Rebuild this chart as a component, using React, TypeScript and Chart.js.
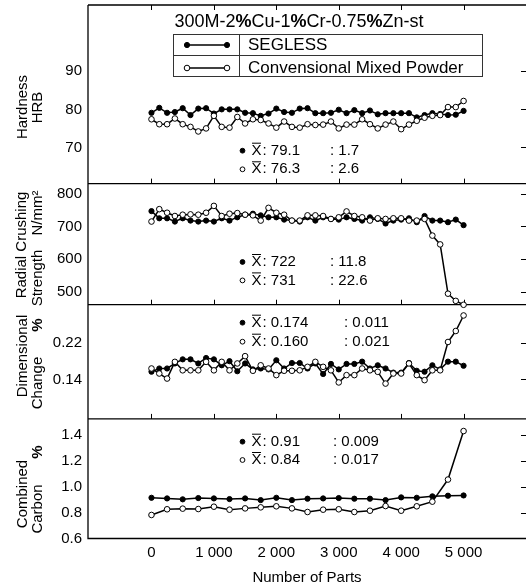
import React, { useEffect, useRef } from 'react';
import { Chart, registerables } from 'chart.js';

Chart.register(...registerables);

const FONT = "'Liberation Sans', Arial, Helvetica, sans-serif";

// ---------- data ----------
const partsFine = [0, 125, 250, 375, 500, 625, 750, 875, 1000, 1125, 1250, 1375, 1500, 1625, 1750, 1875, 2000, 2125, 2250, 2375, 2500, 2625, 2750, 2875, 3000, 3125, 3250, 3375, 3500, 3625, 3750, 3875, 4000, 4125, 4250, 4375, 4500, 4625, 4750, 4875, 5000];
const partsCoarse = [0, 250, 500, 750, 1000, 1250, 1500, 1750, 2000, 2250, 2500, 2750, 3000, 3250, 3500, 3750, 4000, 4250, 4500, 4750, 5000];

const hardSegless = [79.1, 80.4, 79.1, 79.3, 80.3, 78.5, 80.2, 80.3, 78.9, 80.0, 80.0, 80.0, 79.1, 79.0, 78.3, 78.9, 80.2, 79.3, 79.1, 80.2, 80.3, 79.0, 79.0, 79.1, 79.9, 79.0, 79.8, 79.0, 79.7, 78.7, 79.0, 79.0, 79.0, 79.0, 77.9, 78.5, 79.0, 78.8, 78.5, 78.6, 79.6];
const hardConv = [77.4, 76.1, 76.1, 77.6, 76.1, 75.4, 74.2, 75.0, 78.3, 75.4, 75.2, 78.0, 76.3, 77.4, 77.2, 76.3, 75.2, 76.8, 75.4, 75.2, 76.1, 75.9, 76.0, 76.8, 75.0, 76.0, 76.0, 77.4, 76.1, 75.0, 76.0, 76.8, 74.8, 76.0, 77.0, 77.8, 78.3, 78.5, 80.6, 80.6, 82.2];

const rcsSegless = [747, 725, 725, 715, 725, 718, 715, 718, 715, 725, 718, 728, 736, 739, 734, 728, 728, 721, 718, 715, 728, 718, 728, 723, 721, 728, 723, 718, 728, 723, 709, 718, 721, 725, 713, 732, 718, 718, 713, 721, 704];
const rcsConv = [715, 753, 742, 732, 736, 737, 736, 742, 763, 732, 739, 741, 736, 734, 718, 757, 742, 736, 718, 718, 734, 734, 732, 723, 728, 746, 732, 728, 718, 725, 723, 725, 725, 718, 718, 723, 672, 645, 494, 472, 460];

const dcSegless = [0.157, 0.164, 0.164, 0.175, 0.184, 0.184, 0.175, 0.187, 0.184, 0.171, 0.180, 0.158, 0.175, 0.162, 0.164, 0.162, 0.182, 0.164, 0.176, 0.176, 0.164, 0.175, 0.152, 0.174, 0.162, 0.174, 0.174, 0.179, 0.164, 0.171, 0.164, 0.155, 0.155, 0.176, 0.159, 0.157, 0.171, 0.162, 0.179, 0.179, 0.170];
const dcConv = [0.164, 0.153, 0.142, 0.1785, 0.160, 0.160, 0.160, 0.1785, 0.160, 0.1785, 0.160, 0.175, 0.191, 0.159, 0.171, 0.164, 0.1495, 0.159, 0.159, 0.160, 0.1676, 0.1785, 0.1676, 0.160, 0.1335, 0.1495, 0.1495, 0.164, 0.160, 0.1567, 0.131, 0.153, 0.153, 0.175, 0.1495, 0.1385, 0.160, 0.160, 0.222, 0.246, 0.280];

const ccSegless = [0.915, 0.91, 0.903, 0.913, 0.91, 0.905, 0.91, 0.897, 0.915, 0.897, 0.908, 0.91, 0.913, 0.908, 0.908, 0.897, 0.918, 0.915, 0.926, 0.931, 0.933];
const ccConv = [0.782, 0.826, 0.831, 0.828, 0.846, 0.823, 0.833, 0.841, 0.849, 0.833, 0.805, 0.823, 0.826, 0.805, 0.815, 0.851, 0.815, 0.849, 0.885, 1.056, 1.431];

const statMeans = [['79.1', '76.3'], ['722', '731'], ['0.174', '0.160'], ['0.91', '0.84']];
const statSigmas = [['1.7', '2.6'], ['11.8', '22.6'], ['0.011', '0.021'], ['0.009', '0.017']];

const xTicks = [0, 1000, 2000, 3000, 4000, 5000];
const xTickLabels = ['0', '1 000', '2 000', '3 000', '4 000', '5 000'];
const hardTicks = [70, 80, 90];
const rcsTicks = [500, 600, 700, 800];
const dcTicks = [0.14, 0.22];
const ccTicks = [0.6, 0.8, 1.0, 1.2, 1.4];

const seriesNames = ['SEGLESS', 'Convensional Mixed Powder'];
const titleParts: [string, boolean][] = [['300M-2', false], ['%', true], ['Cu-1', false], ['%', true], ['Cr-0.75', false], ['%', true], ['Zn-st', false]];
const yTitles = [['Hardness', 'HRB'], ['Radial Crushing', 'Strength', 'N/mm²'], ['Dimensional', 'Change', '%'], ['Combined', 'Carbon', '%']];
const xTitle = 'Number of Parts';

// ---------- layout constants ----------
const W = 531;
const H = 585;
const panelIds = ['yH', 'yRCS', 'yDC', 'yCC'];

const segStyle = {
  borderColor: '#000', backgroundColor: '#000', borderWidth: 1.5,
  pointRadius: 2.6, pointBorderWidth: 1, pointBackgroundColor: '#000', pointBorderColor: '#000',
  showLine: true, clip: false as const, tension: 0,
};
const conStyle = {
  borderColor: '#000', backgroundColor: '#fff', borderWidth: 1.5,
  pointRadius: 2.8, pointBorderWidth: 1, pointBackgroundColor: '#fff', pointBorderColor: '#000',
  showLine: true, clip: false as const, tension: 0,
};

const pts = (xs: number[], ys: number[]) => xs.map((x, i) => ({ x, y: ys[i] }));

function yScale(min: number, max: number, ticks: number[], weight: number, fmt: (v: number) => string) {
  return {
    type: 'linear' as const,
    position: 'left' as const,
    stack: 'panels',
    stackWeight: weight,
    min, max,
    grid: { display: false, drawTicks: false },
    border: { display: false },
    ticks: { font: { family: FONT, size: 15 }, color: '#000', padding: 6, autoSkip: false, callback: (v: any) => fmt(Number(v)) },
    afterBuildTicks: (s: any) => { s.ticks = ticks.map((v) => ({ value: v })); },
    afterFit: (s: any) => { s.width = 88; s.paddingTop = 0; s.paddingBottom = 0; },
  };
}

function vText(ctx: CanvasRenderingContext2D, text: string, x: number, y: number, font: string) {
  ctx.save();
  ctx.translate(x, y);
  ctx.rotate(-Math.PI / 2);
  ctx.font = font;
  ctx.textAlign = 'center';
  ctx.textBaseline = 'middle';
  ctx.fillText(text, 0, 0);
  ctx.restore();
}

function marker(ctx: CanvasRenderingContext2D, x: number, y: number, filled: boolean, r: number) {
  ctx.beginPath();
  ctx.arc(x, y, r, 0, Math.PI * 2);
  ctx.fillStyle = filled ? '#000' : '#fff';
  ctx.fill();
  ctx.lineWidth = 1;
  ctx.strokeStyle = '#000';
  ctx.stroke();
}

const framePlugin = {
  id: 'frame',
  beforeDatasetsDraw(chart: any) {
    const ctx: CanvasRenderingContext2D = chart.ctx;
    const area = chart.chartArea;
    const xs = chart.scales.x;
    ctx.save();
    ctx.strokeStyle = '#000';
    ctx.lineWidth = 1.3;
    ctx.beginPath();
    ctx.moveTo(area.left, area.top);
    ctx.lineTo(area.right, area.top);
    ctx.moveTo(area.left, area.top);
    ctx.lineTo(area.left, area.bottom);
    ctx.lineTo(area.right, area.bottom);
    ctx.stroke();
    ctx.lineWidth = 1;
    panelIds.forEach((id, pi) => {
      const s = chart.scales[id];
      if (pi < panelIds.length - 1) {
        ctx.lineWidth = 1.3;
        ctx.beginPath();
        ctx.moveTo(area.left, s.bottom);
        ctx.lineTo(area.right, s.bottom);
        ctx.stroke();
        ctx.lineWidth = 1;
        xTicks.forEach((v) => {
          const px = Math.round(xs.getPixelForValue(v)) + 0.5;
          ctx.beginPath();
          ctx.moveTo(px, s.bottom);
          ctx.lineTo(px, s.bottom - 5);
          ctx.stroke();
        });
      }
      if (pi === 0) {
        xTicks.forEach((v) => {
          const px = Math.round(xs.getPixelForValue(v)) + 0.5;
          ctx.beginPath();
          ctx.moveTo(px, s.top);
          ctx.lineTo(px, s.top + 5);
          ctx.stroke();
        });
      }
      s.ticks.forEach((t: any) => {
        const py = Math.round(s.getPixelForValue(t.value)) + 0.5;
        if (py > s.bottom - 2 || py < s.top + 2) return;
        ctx.beginPath();
        ctx.moveTo(area.right - 5, py);
        ctx.lineTo(area.right, py);
        ctx.stroke();
      });
    });
    ctx.restore();
  },
  afterDraw(chart: any) {
    const ctx: CanvasRenderingContext2D = chart.ctx;
    ctx.save();
    ctx.fillStyle = '#000';

    // ---- title ----
    const tSize = 18;
    let total = 0;
    titleParts.forEach(([t, b]) => {
      ctx.font = `${b ? 'bold ' : ''}${tSize}px ${FONT}`;
      total += ctx.measureText(t).width;
    });
    let tx = 299 - total / 2;
    ctx.textBaseline = 'middle';
    ctx.textAlign = 'left';
    titleParts.forEach(([t, b]) => {
      ctx.font = `${b ? 'bold ' : ''}${tSize}px ${FONT}`;
      ctx.fillText(t, tx, 22);
      tx += ctx.measureText(t).width;
    });

    // ---- legend table ----
    const L = 173.5, R = 482.5, T = 34.5, M = 55.5, B = 76.5, D = 239.5;
    ctx.strokeStyle = '#333';
    ctx.lineWidth = 1;
    ctx.strokeRect(L, T, R - L, B - T);
    ctx.beginPath();
    ctx.moveTo(L, M); ctx.lineTo(R, M);
    ctx.moveTo(D, T); ctx.lineTo(D, B);
    ctx.stroke();
    const rows = [45, 68];
    rows.forEach((ry, i) => {
      ctx.strokeStyle = '#000';
      ctx.lineWidth = 1.5;
      ctx.beginPath();
      ctx.moveTo(187, ry); ctx.lineTo(227, ry);
      ctx.stroke();
      marker(ctx, 187, ry, i === 0, i === 0 ? 2.6 : 2.8);
      marker(ctx, 227, ry, i === 0, i === 0 ? 2.6 : 2.8);
      ctx.fillStyle = '#000';
      ctx.font = `17px ${FONT}`;
      ctx.textBaseline = 'middle';
      ctx.fillText(seriesNames[i], 248, ry);
    });

    // ---- stats ----
    const statY = [[150.7, 169.3], [262, 280.4], [322.7, 341.7], [441.7, 460]];
    const sigX = [330, 330, 344, 333];
    statY.forEach((ys, pi) => {
      ys.forEach((y, r) => {
        marker(ctx, 242.5, y, r === 0, 2.4);
        ctx.fillStyle = '#000';
        ctx.font = `15px ${FONT}`;
        ctx.textBaseline = 'middle';
        ctx.textAlign = 'left';
        ctx.fillText('X', 251.5, y);
        ctx.strokeStyle = '#000';
        ctx.lineWidth = 1;
        ctx.beginPath();
        ctx.moveTo(252, y - 7.5); ctx.lineTo(261, y - 7.5);
        ctx.stroke();
        ctx.fillText(': ' + statMeans[pi][r], 262.5, y);
        ctx.fillText(': ' + statSigmas[pi][r], sigX[pi], y);
      });
    });

    // ---- y titles ----
    const f = `15px ${FONT}`;
    const fb = `bold 15px ${FONT}`;
    vText(ctx, yTitles[0][0], 22.5, 107, f);
    vText(ctx, yTitles[0][1], 38, 107.5, f);
    vText(ctx, yTitles[1][0], 21.5, 245, f);
    vText(ctx, yTitles[1][1], 37.5, 278, f);
    vText(ctx, yTitles[1][2], 37.5, 213, f);
    vText(ctx, yTitles[2][0], 22.5, 356, f);
    vText(ctx, yTitles[2][1], 37.5, 383, f);
    vText(ctx, yTitles[2][2], 37.5, 325, fb);
    vText(ctx, yTitles[3][0], 22.5, 494, f);
    vText(ctx, yTitles[3][1], 37.5, 509, f);
    vText(ctx, yTitles[3][2], 37.5, 452, fb);
    ctx.restore();
  },
};

export default function App() {
  const ref = useRef<HTMLCanvasElement>(null);
  useEffect(() => {
    document.body.style.margin = '0';
    document.body.style.overflow = 'hidden';
    const chart = new Chart(ref.current as HTMLCanvasElement, {
      type: 'scatter',
      data: {
        datasets: [
          { label: seriesNames[1], data: pts(partsFine, hardConv), yAxisID: 'yH', ...conStyle },
          { label: seriesNames[0], data: pts(partsFine, hardSegless), yAxisID: 'yH', ...segStyle },
          { label: seriesNames[1], data: pts(partsFine, rcsConv), yAxisID: 'yRCS', ...conStyle },
          { label: seriesNames[0], data: pts(partsFine, rcsSegless), yAxisID: 'yRCS', ...segStyle },
          { label: seriesNames[1], data: pts(partsFine, dcConv), yAxisID: 'yDC', ...conStyle },
          { label: seriesNames[0], data: pts(partsFine, dcSegless), yAxisID: 'yDC', ...segStyle },
          { label: seriesNames[1], data: pts(partsCoarse, ccConv), yAxisID: 'yCC', ...conStyle },
          { label: seriesNames[0], data: pts(partsCoarse, ccSegless), yAxisID: 'yCC', ...segStyle },
        ] as any,
      },
      options: {
        animation: false,
        responsive: true,
        maintainAspectRatio: false,
        layout: { padding: { top: 4.5, left: 0, right: 0, bottom: 0 } },
        plugins: { legend: { display: false }, tooltip: { enabled: false }, title: { display: false } },
        scales: {
          x: {
            type: 'linear',
            position: 'bottom',
            min: -1017,
            max: 6000,
            grid: { display: false, drawTicks: false },
            border: { display: false },
            ticks: {
              font: { family: FONT, size: 15 }, color: '#000', padding: 5, autoSkip: false, maxRotation: 0,
              callback: (v: any) => { const i = xTicks.indexOf(Number(v)); return i >= 0 ? xTickLabels[i] : ''; },
            },
            afterBuildTicks: (s: any) => { s.ticks = xTicks.map((v) => ({ value: v })); },
            title: { display: true, text: xTitle, color: '#000', font: { family: FONT, size: 15, lineHeight: 1 }, padding: { top: 0, bottom: 0 } },
            afterFit: (s: any) => { s.height = 46.5; s.paddingLeft = 0; s.paddingRight = 0; },
          },
          yCC: yScale(0.6, 1.525, ccTicks, 119.7, (v) => v.toFixed(1)),
          yDC: yScale(0.0537, 0.3035, dcTicks, 114.3, (v) => v.toFixed(2)),
          yRCS: yScale(460.2, 831.2, rcsTicks, 121.2, (v) => String(Math.round(v))),
          yH: yScale(60.5, 107.4, hardTicks, 178.8, (v) => String(Math.round(v))),
        } as any,
      },
      plugins: [framePlugin],
    });
    return () => chart.destroy();
  }, []);
  return (
    <div style={{ width: W, height: H, position: 'relative' }}>
      <canvas ref={ref} />
    </div>
  );
}
